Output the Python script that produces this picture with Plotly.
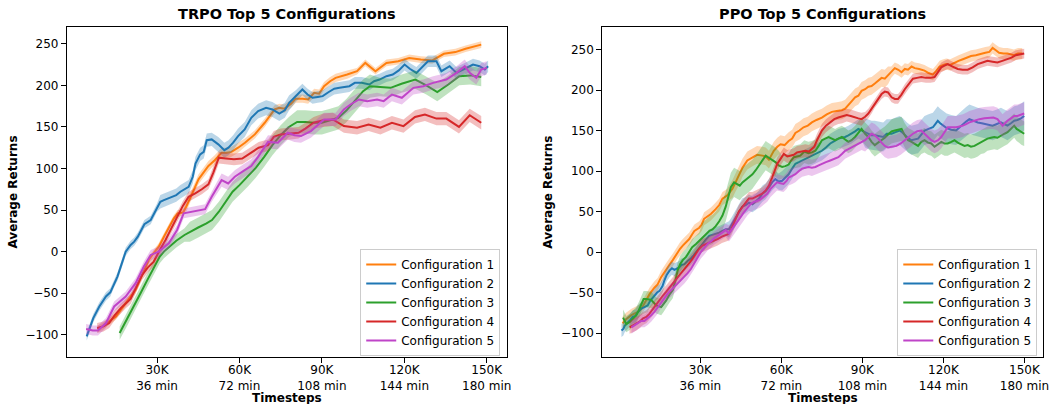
import plotly.graph_objects as go

# ---------------- data (timesteps in K, average returns) ----------------
NAMES = ["Configuration 1", "Configuration 2", "Configuration 3", "Configuration 4", "Configuration 5"]
COLORS = ["#ff7f0e", "#1f77b4", "#2ca02c", "#d62728", "#bf44c8"]

x_tick_vals = [30, 60, 90, 120, 150]
x_tick_text = ["30K<br>36 min", "60K<br>72 min", "90K<br>108 min", "120K<br>144 min", "150K<br>180 min"]
y_tick_vals = [-100, -50, 0, 50, 100, 150, 200, 250]

# TRPO
trpo_c1 = [(8.4,-93),(10.2,-90),(12.5,-84),(15,-78),(16.8,-70),(18.6,-62),(20.4,-54),(22.2,-46),(24.6,-28),(27,-10),(29,-1),(30.6,6),(32.5,18),(34.3,30),(36.1,40),(37.5,46),(39.5,47),(40.8,55),(42.3,66),(43.7,78),(45.1,87),(46.9,95),(48.7,103),(51,110),(53.5,119),(55.3,119),(57.1,120),(59.5,125),(62,131),(65.6,141),(69.2,155),(72.8,171),(74.5,173),(76.4,172),(78.8,178),(80.5,184),(83,184),(85,183),(87.2,191),(89,190),(90.8,199),(93,205),(95,209),(99.2,213),(102.8,217),(105.8,227),(109.5,217),(113.5,227),(117.8,229),(121.8,233),(126,231),(130.2,230),(134.4,238),(138.6,240),(142.3,244),(148,249)]
trpo_c2 = [(4.4,-102),(5.6,-90),(6.8,-80),(9,-66),(11.4,-54),(13,-49),(14.4,-38),(15.6,-30),(16.8,-18),(18.6,0),(20.4,8),(21.7,12),(23,18),(25.4,33),(27.7,38),(30,53),(31.2,60),(32.5,62),(35.5,66),(37,68),(38.5,72),(41.5,78),(43,90),(44,106),(45.7,117),(47,120),(48.1,134),(49.9,135),(52.3,129),(54.5,122),(56,125),(57.7,131),(59.5,139),(61.9,147),(64.3,161),(66.8,169),(69.7,173),(72,171),(74.5,166),(76.5,170),(78.1,179),(80.5,187),(82.9,195),(84.8,189),(86.6,185),(88.5,186),(90.3,187),(92.5,192),(94.5,196),(96.4,197),(98,198),(100,199),(102,203),(104.5,203),(107.3,201),(109,205),(111,207),(113.5,211),(115.8,213),(118,218),(120.1,225),(122,220),(124.4,215),(126.5,222),(128.6,229),(131.7,229),(133.5,217),(136.5,223),(139,215),(142,220),(145,225),(147.4,223),(149.3,219),(150.5,223)]
trpo_c3 = [(16.4,-98),(19,-82),(21.5,-67),(24,-50),(26.5,-34),(29,-18),(31,-6),(32.5,0),(34.5,6),(37,13),(40,20),(42,24),(45,29),(48,34),(50,38),(52.5,48),(55,60),(57.5,72),(60,80),(63,90),(66,101),(69,114),(72,128),(75,140),(78,150),(81,156),(84,156),(87,155),(90,155),(93,158),(96,161),(99,170),(102,181),(105,193),(107.5,199),(111,198),(115,197),(119,202),(124,207),(128,200),(132,192),(136,201),(140,211),(144,212),(148,210)]
trpo_c4 = [(8.2,-92),(10.5,-90),(12.6,-86),(14.7,-76),(16.8,-68),(18.6,-62),(20.4,-57),(22.5,-42),(24.6,-28),(26.7,-19),(28.8,-12),(31,2),(33.1,14),(35.2,28),(37.3,42),(39.4,55),(41.5,66),(43.9,70),(46.3,75),(48.7,81),(50.5,95),(52.5,113),(55,112),(58,111),(61,112),(64,118),(67,125),(70.4,128),(72.5,138),(75,141),(78.8,142),(81.5,143),(84,148),(87,155),(90.5,158),(94,159),(98,151),(102.8,149),(107,153),(111.3,149),(115.5,155),(119.7,151),(123.9,162),(127.5,165),(131.7,160),(135.3,160),(139.9,150),(143.8,164),(148,155)]
trpo_c5 = [(4.2,-93),(6.6,-95),(8.5,-95),(11.4,-86),(14.4,-66),(18.6,-54),(22.2,-38),(25.2,-18),(27.7,-4),(30.6,0),(34.3,10),(37.3,26),(39.7,46),(42.7,48),(47.5,51),(49.9,66),(53.5,86),(55.9,82),(58.3,90),(61.9,98),(64.3,103),(66.8,114),(70.4,132),(74,131),(77.6,143),(80,140),(82.4,139),(86,145),(90.8,159),(95,159),(98,171),(100.4,177),(103.5,183),(106.5,181),(110.1,183),(112.5,181),(115.5,189),(119.1,185),(123.3,197),(126.9,199),(130.5,203),(135.3,207),(139,215),(142,223),(143.8,215),(146.2,209),(148,219),(150,221)]

# spread of each TRPO series, read per stretch of timesteps: (up to timestep, half width)
trpo_spread = [
    [(40, 4), (60, 6), (100, 5), (160, 4)],
    [(30, 5), (50, 8), (80, 9), (160, 7)],
    [(40, 8), (80, 12), (110, 14), (160, 11)],
    [(50, 6), (90, 7), (160, 8)],
    [(50, 6), (100, 8), (160, 8)],
]

# PPO
ppo_c1 = [(1.2,-88),(2.5,-83),(4.5,-78),(6.9,-74),(8.2,-70),(9.3,-64),(10.2,-58),(11.2,-52),(13,-44),(14.2,-40),(15.5,-31),(17.3,-21),(18.5,-16),(19.8,-10),(21.6,0),(22.5,4),(23.5,8),(25.9,16),(27,22),(27.8,26),(29.6,30),(30.5,34),(31.4,41),(32.8,44),(33.9,47),(35.7,53),(37,58),(38.2,66),(40,70),(41.9,78),(43.1,86),(44.4,94),(45.6,104),(47.4,113),(49.3,117),(51,120),(53,119),(54.2,118),(55.4,114),(57.2,125),(58.5,130),(59.7,133),(61.2,132),(62.7,137),(64,140),(65.2,147),(66.7,150),(68.2,154),(69.8,156),(71.3,160),(73,163),(75,166),(76.8,170),(78.7,173),(80.5,174),(82.4,175),(83.6,177),(84.8,181),(86,186),(87.3,191),(88.5,193),(89.7,199),(91,201),(92.2,204),(93.4,205),(94.6,208),(96,212),(97.1,215),(98.3,214),(99.5,218),(100.7,222),(102,227),(103.3,225),(104.5,222),(105.7,226),(106.9,225),(108.2,229),(109.4,227),(111,226),(113,224),(114.5,221),(116.1,219),(117.4,224),(118.6,229),(120,231),(121,232),(122.5,231),(124.1,234),(125.6,236),(127.2,238),(128.7,240),(130.2,242),(132,243),(133.9,245),(135.5,246),(137,247),(138.2,252),(139.4,249),(140.6,246),(142.2,245),(143.7,245),(145,244),(146.1,243),(147.6,245),(149.2,245)]
ppo_c2 = [(0.8,-97),(1.5,-95),(2,-91),(3,-88),(4,-84),(5,-80),(6,-79),(6.9,-74),(8,-70),(9.3,-68),(10.5,-66),(11.5,-60),(13,-54),(14,-50),(14.9,-48),(16,-42),(16.7,-35),(17.6,-28),(18.6,-23),(19.5,-20),(20.4,-22),(21.3,-20),(22.2,-19),(23,-16),(24.1,-15),(25.3,-11),(26.5,-8),(27.5,-4),(28.4,0),(29.6,5),(30.8,10),(32,15),(33.3,20),(34.5,21),(35.7,22),(37,24),(38.2,26),(39.4,28),(40.6,28),(41.6,33),(42.5,39),(43.4,44),(44.3,49),(45.5,56),(46.8,58),(48,61),(49.3,59),(50.5,62),(51.7,66),(53,72),(54.2,75),(55.4,80),(56.6,86),(57.8,90),(59,87),(60.3,88),(61.5,92),(62.7,96),(64,103),(65.2,109),(66.5,111),(67.7,113),(68.9,114),(70.1,117),(71.3,119),(72.6,121),(73.8,123),(75,125),(76.5,129),(78.1,134),(79.6,137),(81.1,140),(82.4,141),(83.6,142),(84.8,144),(86,146),(87.3,149),(88.5,152),(89.7,150),(91,147),(92.2,145),(93.4,144),(94.6,144),(96,143),(97.7,142),(99,146),(100.8,146),(102.3,148),(103.8,150),(105,147),(106.5,142),(108.1,138),(109.3,139),(110.6,140),(111.8,145),(113,150),(114.5,152),(116.1,154),(117,158),(117.9,162),(118.8,159),(119.8,156),(121.2,153),(122.9,151),(124.7,150),(126,154),(127.2,158),(128.4,161),(129.6,164),(131.1,162),(132.7,160),(134.2,159),(135.7,158),(137,157),(138.2,156),(139.8,158),(141.3,160),(142.5,158),(143.7,156),(145,159),(146.2,162),(147.4,163),(148.7,165),(149.9,168)]
ppo_c3 = [(1.4,-81),(2.6,-89),(4,-86),(5,-82),(6.3,-78),(7.2,-72),(8.1,-64),(9,-58),(10,-58),(11.8,-59),(13.7,-66),(15.5,-68),(16.4,-64),(17.3,-60),(18.5,-53),(19.8,-47),(20.7,-36),(21.6,-23),(22.5,-15),(23.5,-10),(24.7,-6),(25.9,0),(27,6),(28.4,10),(29.6,14),(30.8,18),(32,22),(33.3,26),(34.5,28),(35.7,32),(37,38),(38.2,45),(39.4,56),(40.4,68),(41.3,80),(42.5,86),(43.7,84),(44.6,82),(45.6,86),(46.8,89),(48,92),(49.3,96),(50.5,101),(51.7,107),(52.9,113),(54.2,119),(55.1,117),(56,115),(57.8,111),(59,107),(60.3,105),(61.5,106),(62.7,108),(63.6,113),(64.6,117),(65.8,118),(67,119),(68.5,124),(70,122),(71.3,123),(72.6,125),(73.8,131),(75,138),(76.2,140),(77.5,142),(78.7,140),(79.9,138),(81.1,140),(82.4,142),(83.6,139),(84.8,136),(86,138),(87.3,142),(88.5,147),(89.7,152),(91,146),(92.2,142),(93.4,136),(94.6,132),(95.8,135),(97.1,138),(98.3,141),(99.5,145),(100.8,149),(102,150),(103.2,151),(104.5,152),(105.7,144),(106.9,138),(108.2,136),(109.4,133),(110.6,131),(111.8,136),(113,138),(114.3,135),(115.5,134),(116.7,130),(118,133),(119.2,136),(120.4,134),(121.6,134),(122.9,136),(124.1,138),(125.3,135),(126.6,133),(127.8,131),(129,132),(130.2,130),(131.5,131),(132.7,133),(133.9,136),(135.1,137),(136.3,140),(137.6,141),(138.8,142),(140,141),(141.3,144),(142.5,146),(143.7,148),(145,152),(146.2,156),(147.1,152),(148,150),(149,147),(149.9,146)]
ppo_c4 = [(3.8,-93),(5,-91),(6.3,-89),(7.5,-86),(8.8,-82),(10,-80),(11.2,-76),(12.5,-70),(13.7,-64),(15,-58),(16.1,-54),(17.4,-49),(18.6,-44),(20,-39),(21,-35),(22.2,-30),(23.5,-25),(24.7,-20),(25.9,-15),(27,-9),(28.4,-2),(29.6,4),(30.8,8),(32.2,10),(33.9,12),(35,14),(36.4,16),(38,19),(39.4,21),(40.3,22),(41.3,27),(42.2,33),(43.1,41),(44.3,50),(45.6,56),(46.8,62),(48,66),(49.3,66),(50.5,68),(51.7,69),(52.9,72),(54.2,76),(55.4,82),(56.6,92),(57.8,102),(58.5,109),(59.7,115),(60.9,121),(62.2,118),(63.4,119),(64.6,120),(65.8,123),(67.2,124),(68.9,125),(70.2,124),(71.3,127),(72.2,130),(73.2,138),(74.2,145),(75,150),(76.5,156),(78.1,160),(79.6,164),(81.1,166),(82.6,167),(84.2,169),(85.7,168),(87.3,166),(88.5,165),(89.7,164),(91,167),(92.2,171),(93.4,177),(94.6,184),(95.8,190),(97.1,195),(98.3,198),(99.5,197),(100.8,191),(102,189),(103.2,189),(104.4,194),(105.7,201),(107.2,208),(108.7,214),(110.2,215),(111.8,216),(113.5,215),(115.2,215),(116.7,216),(118,222),(119.2,228),(120.4,230),(121.6,232),(123.4,229),(125.3,226),(127.1,225),(129,225),(130.8,228),(132.7,232),(134.5,234),(136.3,236),(138.2,235),(140,234),(141.8,236),(143.7,238),(145.2,240),(146.8,243),(148.4,244),(149.9,245)]
ppo_c5 = [(4.5,-93),(5.7,-90),(6.9,-87),(8.1,-85),(9.3,-85),(10.5,-82),(11.8,-78),(13,-74),(14.3,-68),(15.5,-61),(16.7,-56),(18,-51),(19.2,-47),(20.4,-43),(21.6,-39),(22.8,-35),(24.1,-31),(25.3,-26),(26.5,-21),(27.5,-15),(28.4,-10),(29.3,-5),(30.2,0),(31.5,5),(32.7,10),(33.9,13),(35.1,17),(36.4,20),(37.6,23),(38.5,25),(39.4,27),(40.6,23),(41.5,27),(42.5,31),(43.7,37),(44.9,43),(46.1,49),(47.4,55),(48.6,59),(49.8,62),(51,63),(52.2,65),(53.5,68),(54.8,72),(56,78),(57.2,82),(58.4,86),(59.6,85),(60.8,84),(62,88),(62.7,92),(64,94),(65.2,96),(66.5,100),(67.7,103),(68.9,104),(70.1,105),(71.3,104),(72.6,105),(73.8,107),(75,109),(76.5,111),(78.1,113),(79.6,115),(81.1,117),(82.4,121),(83.6,125),(84.8,127),(86,129),(87.3,131),(88.5,134),(89.7,136),(91,138),(92.2,142),(93.4,146),(94.6,144),(95.9,140),(97.1,135),(98.3,131),(99.5,129),(101,130),(102.6,131),(104.2,134),(105.7,138),(107.2,142),(108.7,146),(110.3,149),(111.8,150),(113,146),(114.3,142),(115.5,138),(116.7,136),(118,138),(119.2,142),(120.4,148),(121.6,154),(123.2,154),(124.7,154),(126,155),(127.2,156),(128.4,158),(129.6,160),(131.5,162),(133.3,164),(135.2,165),(137,166),(138.5,166),(140,164),(141,160),(141.9,156),(142.8,159),(143.7,162),(145,165),(146.2,168),(147.4,168),(148.6,169),(149.9,171)]

ppo_spread = [
    [(40, 8), (100, 11), (160, 7)],
    [(40, 8), (60, 10), (90, 12), (160, 18)],
    [(30, 10), (60, 18), (100, 14), (160, 15)],
    [(90, 8), (160, 6)],
    [(40, 8), (90, 10), (160, 14)],
]

trpo_series = [trpo_c1, trpo_c2, trpo_c3, trpo_c4, trpo_c5]
ppo_series = [ppo_c1, ppo_c2, ppo_c3, ppo_c4, ppo_c5]

FONT = "DejaVu Sans"


def rgba(hex_color, a):
    h = hex_color.lstrip("#")
    return f"rgba({int(h[0:2],16)},{int(h[2:4],16)},{int(h[4:6],16)},{a})"


def spread_for(ts, segs):
    out = []
    for t in ts:
        for end, w in segs:
            if t <= end:
                out.append(w)
                break
    return out


fig = go.Figure()


def add_panel(series, spreads, xa, ya, legend_name):
    for i, pts in enumerate(series):
        ts = [p[0] for p in pts]
        vs = [p[1] for p in pts]
        sp = spread_for(ts, spreads[i])
        up = [v + s for v, s in zip(vs, sp)]
        lo = [v - s for v, s in zip(vs, sp)]
        fig.add_trace(go.Scatter(
            x=ts + ts[::-1], y=up + lo[::-1], fill="toself",
            fillcolor=rgba(COLORS[i], 0.3), line=dict(width=0), mode="lines",
            hoverinfo="skip", showlegend=False, xaxis=xa, yaxis=ya))
        fig.add_trace(go.Scatter(
            x=ts, y=vs, mode="lines", name=NAMES[i],
            line=dict(color=COLORS[i], width=2),
            xaxis=xa, yaxis=ya, legend=legend_name))


add_panel(trpo_series, trpo_spread, "x", "y", "legend")
add_panel(ppo_series, ppo_spread, "x2", "y2", "legend2")

ydom = [0.1163, 0.9344]
axis_common = dict(
    showline=True, mirror=True, linecolor="black", linewidth=1,
    ticks="outside", ticklen=5, tickwidth=1, tickcolor="black",
    showgrid=False, zeroline=False,
    tickfont=dict(family=FONT, size=12, color="black"),
)

legend_common = dict(
    xanchor="right", yanchor="bottom",
    bgcolor="rgba(255,255,255,0.8)", bordercolor="#cccccc", borderwidth=1,
    font=dict(family=FONT, size=12, color="black"),
)

fig.update_layout(
    width=1058, height=404,
    margin=dict(l=0, r=0, t=0, b=0),
    paper_bgcolor="white", plot_bgcolor="white",
    font=dict(family=FONT, size=12, color="black"),
    xaxis=dict(domain=[0.0636, 0.482], range=[-2.8, 157.4], tickvals=x_tick_vals,
               ticktext=x_tick_text, anchor="y", ticklabelstandoff=-3, **axis_common),
    yaxis=dict(domain=ydom, range=[-126.8, 270.8], tickvals=y_tick_vals, anchor="x",
               **axis_common),
    xaxis2=dict(domain=[0.5725, 0.9918], range=[-6.3, 157.0], tickvals=x_tick_vals,
                ticktext=x_tick_text, anchor="y2", ticklabelstandoff=-3, **axis_common),
    yaxis2=dict(domain=ydom, range=[-129.6, 278.4], tickvals=y_tick_vals, anchor="x2",
                **axis_common),
    legend=dict(x=0.4755, y=0.119, **legend_common),
    legend2=dict(x=0.986, y=0.119, **legend_common),
)

titles = [("TRPO Top 5 Configurations", (0.0636 + 0.482) / 2),
          ("PPO Top 5 Configurations", (0.5725 + 0.9918) / 2)]
for txt, xc in titles:
    fig.add_annotation(text=f"<b>{txt}</b>", x=xc, y=1 - 14 / 404, xref="paper", yref="paper",
                       showarrow=False, xanchor="center", yanchor="middle",
                       font=dict(family=FONT, size=14.5, color="black"))
    fig.add_annotation(text="<b>Timesteps</b>", x=xc, y=1 - 397.5 / 404, xref="paper", yref="paper",
                       showarrow=False, xanchor="center", yanchor="middle",
                       font=dict(family=FONT, size=12, color="black"))

for xc in [12.8 / 1058, 551 / 1058]:
    fig.add_annotation(text="<b>Average Returns</b>", x=xc, y=(ydom[0] + ydom[1]) / 2,
                       xref="paper", yref="paper", showarrow=False, textangle=-90,
                       xanchor="center", yanchor="middle",
                       font=dict(family=FONT, size=12, color="black"))

fig.write_html(
    "out.html",
    config={"displayModeBar": False},
    post_script="document.body.style.margin='0';document.body.style.padding='0';",
)
